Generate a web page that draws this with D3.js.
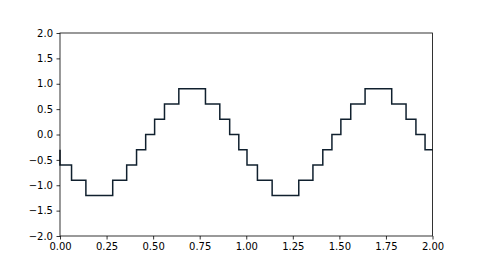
<!DOCTYPE html>
<html><head><meta charset="utf-8">
<script src="https://cdn.jsdelivr.net/npm/d3@7"></script>
<style>html,body{margin:0;padding:0;background:#fff;}</style>
</head><body>
<svg id="c" width="480" height="270"></svg>
<script>
// Step start positions (x) and the level held from each position
const stepX = [0, 0, 0.062, 0.139, 0.283, 0.358, 0.411, 0.46, 0.508, 0.561, 0.638, 0.781, 0.858, 0.911, 0.96,
               1.004, 1.060, 1.139, 1.282, 1.358, 1.411, 1.46, 1.508, 1.561, 1.638, 1.781, 1.858, 1.911, 1.96, 2.0];
const stepY = [-0.3, -0.6, -0.9, -1.2, -0.9, -0.6, -0.3, 0, 0.3, 0.6, 0.9, 0.6, 0.3, 0, -0.3,
               -0.6, -0.9, -1.2, -0.9, -0.6, -0.3, 0, 0.3, 0.6, 0.9, 0.6, 0.3, 0, -0.3, -0.3];
const xTicks = [0, 0.25, 0.5, 0.75, 1.0, 1.25, 1.5, 1.75, 2.0];
const yTicks = [-2.0, -1.5, -1.0, -0.5, 0.0, 0.5, 1.0, 1.5, 2.0];

const L = 60, R = 432.5, T = 33, B = 236;
const svg = d3.select("#c");
const x = d3.scaleLinear().domain([0, 2]).range([L, R]);
const y = d3.scaleLinear().domain([-2, 2]).range([B, T]);
const fmtMinus = s => s.replace("-", "\u2212");

const pts = stepX.map((v, i) => [v, stepY[i]]);
const line = d3.line().x(d => x(d[0])).y(d => y(d[1])).curve(d3.curveStepAfter);
svg.append("path").attr("d", line(pts)).attr("fill", "none")
  .attr("stroke", "#10202e").attr("stroke-width", 1.5).attr("stroke-linejoin", "miter");

const xa = svg.append("g").attr("transform", `translate(0,${B})`)
  .call(d3.axisBottom(x).tickValues(xTicks).tickSize(3.5).tickPadding(3.5)
        .tickFormat(d => fmtMinus(d3.format(".2f")(d))));
const ya = svg.append("g").attr("transform", `translate(${L},0)`)
  .call(d3.axisLeft(y).tickValues(yTicks).tickSize(3.5).tickPadding(3.5)
        .tickFormat(d => fmtMinus(d3.format(".1f")(d))));
[xa, ya].forEach(g => {
  g.select(".domain").remove();
  g.selectAll("line").attr("stroke", "#000").attr("stroke-width", 0.8);
  g.selectAll("text").attr("font-family", "DejaVu Sans").attr("font-size", 10).attr("fill", "#000");
});
svg.append("rect").attr("x", L).attr("y", T).attr("width", R - L).attr("height", B - T)
  .attr("fill", "none").attr("stroke", "#000").attr("stroke-width", 0.8);
</script>
</body></html>
